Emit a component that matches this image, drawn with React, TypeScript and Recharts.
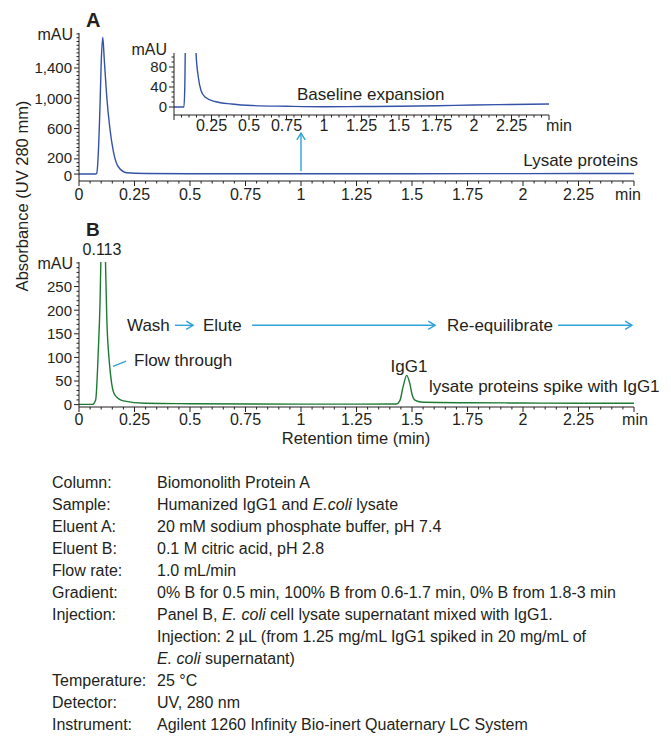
import React from "react";
import { LineChart, Line, XAxis, YAxis, ReferenceLine } from "recharts";

const FONT = '"Liberation Sans", Arial, sans-serif';
const INK = "#231f20";
const BLUE = "#3452a8";
const GREEN = "#1c7a33";
const CYAN = "#2ea2db";

// Panel A: lysate proteins (mAU vs min)
const timeA = [0, 0.075, 0.08, 0.087, 0.095, 0.1, 0.107, 0.114, 0.125, 0.14, 0.155, 0.177, 0.215, 0.3, 0.5, 1, 1.5, 2, 2.5];
const mauA = [0, 0, 10, 277, 938, 1462, 1806, 1506, 1021, 581, 295, 96, 17, 8, 4, 3, 4, 6, 8];

// Panel A inset: baseline expansion
const insetTime = [0, 0.066, 0.072, 0.078, 0.145, 0.147, 0.162, 0.18, 0.207, 0.273, 0.385, 0.518, 0.75, 1, 1.25, 1.5, 1.75, 2, 2.25, 2.5];
const insetMau = [0, 0, 40, 160, 160, 108, 60, 33, 20, 11, 6, 3, 1.5, 0.5, 1, 1.5, 2.5, 4, 5, 6];

// Panel B: lysate spiked with IgG1
const timeB = [0, 0.06, 0.075, 0.087, 0.095, 0.1, 0.11, 0.118, 0.125, 0.137, 0.147, 0.162, 0.2, 0.3, 0.5, 1, 1.25, 1.43, 1.445, 1.46, 1.476, 1.49, 1.5, 1.515, 1.55, 1.75, 2, 2.25, 2.5];
const mauB = [0.5, 0.5, 10, 115, 221, 340, 430, 330, 186, 88, 45, 20, 8, 3, 2, 1, 1, 1.5, 8, 38, 62, 45, 22, 9, 5, 4, 3.5, 3, 3];

// axis ticks
const xMajor = [0, 0.25, 0.5, 0.75, 1, 1.25, 1.5, 1.75, 2, 2.25, 2.5];
const xLabels = ["0", "0.25", "0.5", "0.75", "1", "1.25", "1.5", "1.75", "2", "2.25", "min"];
const insetXLabels = ["", "0.25", "0.5", "0.75", "1", "1.25", "1.5", "1.75", "2", "2.25", "min"];
const yMajorA = [0, 200, 600, 1000, 1400];
const yLabelsA = ["0", "200", "600", "1,000", "1,400"];
const yNudgeA = [1.5, -1.5, 0, 0, 0];
const yMajorInset = [0, 40, 80];
const yLabelsInset = ["0", "40", "80"];
const yMajorB = [0, 50, 100, 150, 200, 250];
const yLabelsB = ["0", "50", "100", "150", "200", "250"];

const steps = (from: number, to: number, step: number) =>
  Array.from({ length: Math.round((to - from) / step) + 1 }, (_, i) => +(from + i * step).toFixed(3));

const xMinor = steps(0, 2.5, 0.05);

const conditions: [string, React.ReactNode][] = [
  ["Column:", "Biomonolith Protein A"],
  ["Sample:", <>Humanized IgG1 and <tspan fontStyle="italic">E.coli</tspan> lysate</>],
  ["Eluent A:", "20 mM sodium phosphate buffer, pH 7.4"],
  ["Eluent B:", "0.1 M citric acid, pH 2.8"],
  ["Flow rate:", "1.0 mL/min"],
  ["Gradient:", "0% B for 0.5 min, 100% B from 0.6-1.7 min, 0% B from 1.8-3 min"],
  ["Injection:", <>Panel B, <tspan fontStyle="italic">E. coli</tspan> cell lysate supernatant mixed with IgG1.</>],
  ["", "Injection: 2 µL (from 1.25 mg/mL IgG1 spiked in 20 mg/mL of"],
  ["", <><tspan fontStyle="italic">E. coli</tspan> supernatant)</>],
  ["Temperature:", "25 °C"],
  ["Detector:", "UV, 280 nm"],
  ["Instrument:", "Agilent 1260 Infinity Bio-inert Quaternary LC System"],
];

const idx = (arr: number[], v: number) => arr.findIndex((m) => Math.abs(m - v) < 1e-6);

const makeXTick = (labels: string[], labelDy: number, minDx: number) => (props: any) => {
  const { x, y, payload } = props;
  const i = idx(xMajor, payload.value);
  const major = i >= 0;
  const label = major ? labels[i] : "";
  return (
    <g>
      <line x1={x} x2={x} y1={y} y2={y + (major ? 5 : 2.5)} stroke={INK} strokeWidth={1} />
      {label ? (
        <text x={x + (label === "min" ? minDx : 0)} y={y + labelDy} textAnchor="middle" fontSize={16} fill={INK} fontFamily={FONT}>
          {label}
        </text>
      ) : null}
    </g>
  );
};

const makeYTick = (majors: number[], labels: string[], nudge?: number[]) => (props: any) => {
  const { x, y, payload } = props;
  const i = idx(majors, payload.value);
  const major = i >= 0;
  return (
    <g>
      <line x1={x - (major ? 5 : 2.5)} x2={x} y1={y} y2={y} stroke={INK} strokeWidth={1} />
      {major ? (
        <text x={x - 7} y={y + (nudge ? nudge[i] : 0)} dy="0.36em" textAnchor="end" fontSize={15} fill={INK} fontFamily={FONT}>
          {labels[i]}
        </text>
      ) : null}
    </g>
  );
};

const arrow = (head: boolean) => (p: any) => {
  const { x1, y1, x2, y2 } = p;
  const ang = Math.atan2(y2 - y1, x2 - x1);
  const L = 8;
  const W = 0.55;
  const ax = x2 - L * Math.cos(ang - W);
  const ay = y2 - L * Math.sin(ang - W);
  const bx = x2 - L * Math.cos(ang + W);
  const by = y2 - L * Math.sin(ang + W);
  return (
    <g>
      <line x1={x1} y1={y1} x2={x2} y2={y2} stroke={CYAN} strokeWidth={1.4} />
      {head ? <polyline points={`${ax},${ay} ${x2},${y2} ${bx},${by}`} fill="none" stroke={CYAN} strokeWidth={1.4} /> : null}
    </g>
  );
};

const toRows = (t: number[], v: number[]) => t.map((tt, i) => ({ t: tt, v: v[i] }));

export default function App() {
  const dataA = toRows(timeA, mauA);
  const dataInset = toRows(insetTime, insetMau);
  const dataB = toRows(timeB, mauB);

  const axisCommon = { tickLine: false, tickSize: 0, tickMargin: 0, axisLine: { stroke: INK, strokeWidth: 1 }, interval: 0 as const, allowDataOverflow: true };

  return (
    <div style={{ position: "absolute", left: 0, top: 0, width: 671, height: 736, background: "#fff", fontFamily: FONT }}>
      {/* Panel A */}
      <div style={{ position: "absolute", left: 0, top: 0 }}>
        <LineChart width={671} height={205} data={dataA} margin={{ top: 33, right: 37, bottom: 0, left: 39 }}>
          <XAxis dataKey="t" type="number" domain={[0, 2.5]} ticks={xMinor} tick={makeXTick(xLabels, 19, -6)} height={24} {...axisCommon} />
          <YAxis type="number" domain={[-92, 1862]} ticks={steps(0, 1850, 50)} tick={makeYTick(yMajorA, yLabelsA, yNudgeA)} width={40} {...axisCommon} />
          <ReferenceLine segment={[{ x: 1, y: 40 }, { x: 1, y: 540 }]} ifOverflow="visible" shape={arrow(true)} />
          <Line dataKey="v" type="monotone" stroke={BLUE} strokeWidth={1.4} dot={false} isAnimationActive={false} />
        </LineChart>
      </div>

      {/* Panel A inset */}
      <div style={{ position: "absolute", left: 0, top: 0 }}>
        <LineChart width={671} height={140} data={dataInset} margin={{ top: 53, right: 122, bottom: 0, left: 144 }}>
          <XAxis dataKey="t" type="number" domain={[0, 2.5]} ticks={xMinor} tick={makeXTick(insetXLabels, 16, 10)} height={25} {...axisCommon} />
          <YAxis type="number" domain={[-16, 108]} ticks={steps(0, 100, 10)} tick={makeYTick(yMajorInset, yLabelsInset)} width={30} {...axisCommon} />
          <Line dataKey="v" type="monotone" stroke={BLUE} strokeWidth={1.4} dot={false} isAnimationActive={false} />
        </LineChart>
      </div>

      {/* Panel B */}
      <div style={{ position: "absolute", left: 0, top: 230 }}>
        <LineChart width={671} height={200} data={dataB} margin={{ top: 32, right: 37, bottom: 0, left: 39 }}>
          <XAxis dataKey="t" type="number" domain={[0, 2.5]} ticks={xMinor} tick={makeXTick(xLabels, 18, 1)} height={23} {...axisCommon} />
          <YAxis type="number" domain={[-5, 302]} ticks={steps(0, 300, 10)} tick={makeYTick(yMajorB, yLabelsB)} width={40} {...axisCommon} />
          <ReferenceLine segment={[{ x: 0.432, y: 168 }, { x: 0.514, y: 168 }]} ifOverflow="visible" shape={arrow(true)} />
          <ReferenceLine segment={[{ x: 0.78, y: 168 }, { x: 1.604, y: 168 }]} ifOverflow="visible" shape={arrow(true)} />
          <ReferenceLine segment={[{ x: 2.158, y: 168 }, { x: 2.491, y: 168 }]} ifOverflow="visible" shape={arrow(true)} />
          <ReferenceLine segment={[{ x: 0.153, y: 81 }, { x: 0.212, y: 92 }]} ifOverflow="visible" shape={arrow(false)} />
          <Line dataKey="v" type="monotone" stroke={GREEN} strokeWidth={1.4} dot={false} isAnimationActive={false} />
        </LineChart>
      </div>

      {/* Text annotations */}
      <svg width={671} height={736} style={{ position: "absolute", left: 0, top: 0, pointerEvents: "none" }} fontFamily={FONT} fill={INK}>
        <text x={86} y={27} fontSize={20} fontWeight="bold">A</text>
        <text x={73} y={40} fontSize={16} textAnchor="end">mAU</text>
        <text x={167} y={55} fontSize={16} textAnchor="end">mAU</text>
        <text x={297} y={100} fontSize={17}>Baseline expansion</text>
        <text x={638} y={166} fontSize={17} textAnchor="end">Lysate proteins</text>
        <text transform="translate(28,196) rotate(-90)" fontSize={16.5} textAnchor="middle">Absorbance (UV 280 mm)</text>

        <text x={86} y={236} fontSize={19} fontWeight="bold">B</text>
        <text x={102} y={255} fontSize={16} textAnchor="middle">0.113</text>
        <text x={73} y={269} fontSize={16} textAnchor="end">mAU</text>
        <text x={127} y={331} fontSize={17}>Wash</text>
        <text x={203} y={331} fontSize={17}>Elute</text>
        <text x={447} y={331} fontSize={17}>Re-equilibrate</text>
        <text x={134} y={366} fontSize={17}>Flow through</text>
        <text x={409} y={372} fontSize={17} textAnchor="middle">IgG1</text>
        <text x={429} y={392} fontSize={17}>lysate proteins spike with IgG1</text>
        <text x={356} y={444} fontSize={16.5} textAnchor="middle">Retention time (min)</text>

        {conditions.map(([k, v], i) => (
          <g key={i} fontSize={16}>
            {k ? <text x={52} y={488 + i * 22}>{k}</text> : null}
            <text x={157} y={488 + i * 22}>{v}</text>
          </g>
        ))}
      </svg>
    </div>
  );
}
